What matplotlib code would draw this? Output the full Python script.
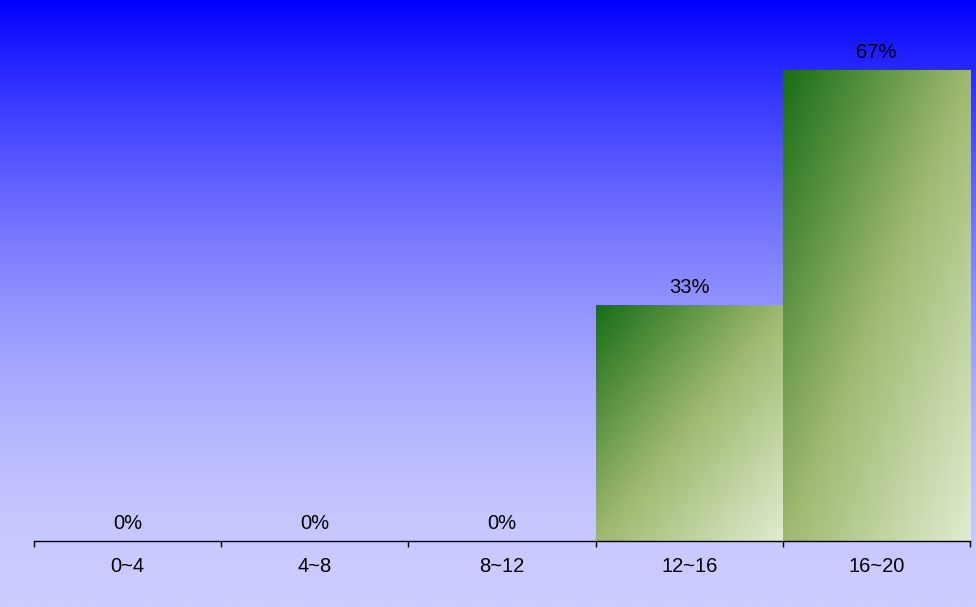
import numpy as np
import matplotlib.pyplot as plt
from matplotlib.colors import LinearSegmentedColormap

# data
categories = ['0~4', '4~8', '8~12', '12~16', '16~20']
shares = [0, 0, 0, 1/3, 2/3]

plt.rcParams['font.family'] = ['Liberation Sans', 'DejaVu Sans']

fig = plt.figure(figsize=(9.76, 6.07), dpi=100)

# background gradient: blue at top -> lavender at bottom
bg = fig.add_axes([0, 0, 1, 1], zorder=0)
bg.axis('off')
yy = np.linspace(0, 1, 600)
t = 1 - (1 - yy) ** 1.8
rgb = np.zeros((600, 1, 3))
rgb[:, 0, 0] = t * 0.8
rgb[:, 0, 1] = t * 0.8
rgb[:, 0, 2] = 1.0
bg.imshow(rgb, aspect='auto', extent=[0, 1, 0, 1], origin='upper',
          interpolation='bilinear')

ax = fig.add_axes([34/976, 66/607, 936/976, 541/607], zorder=1)
ax.patch.set_alpha(0)

x = np.arange(len(categories))
ymax = max(shares) * 1.15
ax.set_xlim(-0.5, len(categories) - 0.5)
ax.set_ylim(0, ymax)

green = LinearSegmentedColormap.from_list(
    'g', ['#186e16', '#9fb96f', '#e0ecd0'])

bars = ax.bar(x, shares, width=1.0, color='none', edgecolor='none')
u, v = np.meshgrid(np.linspace(0, 1, 200), np.linspace(0, 1, 200))
grad = (u + v) / 2
for b in bars:
    h = b.get_height()
    if h <= 0:
        continue
    x0 = b.get_x()
    w = b.get_width()
    ax.imshow(grad, cmap=green, vmin=0, vmax=1, aspect='auto',
              extent=[x0, x0 + w, 0, h], origin='upper',
              interpolation='bilinear', zorder=2)

for xi, s in zip(x, shares):
    ax.annotate(f'{s:.0%}', (xi, s), xytext=(0, 6), textcoords='offset points',
                ha='center', va='bottom', fontsize=14.5)

ax.set_xticks(np.arange(len(categories) + 1) - 0.5)
ax.set_xticklabels([])
ax.set_xticks(x, minor=True)
ax.set_xticklabels(categories, minor=True, fontsize=14.5)
ax.tick_params(axis='x', which='minor', length=0, pad=11.5)
ax.tick_params(axis='x', which='major', direction='out', length=4, width=1)
ax.set_yticks([])
for side in ['left', 'right', 'top']:
    ax.spines[side].set_visible(False)
ax.spines['bottom'].set_linewidth(1)

fig.savefig('out.png', dpi=100)
